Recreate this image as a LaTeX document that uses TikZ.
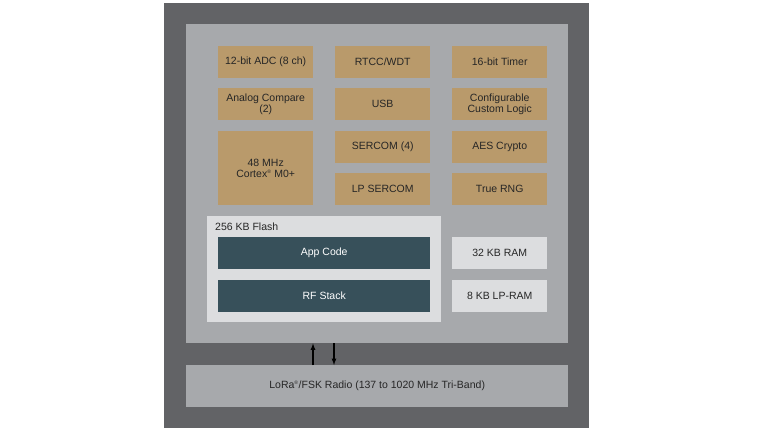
\documentclass[tikz,border=0pt]{standalone}
\usepackage{fontspec}
\setmainfont{Liberation Sans}
\begin{document}
\begin{tikzpicture}[x=1pt,y=-1pt,
  box/.style={minimum width=95pt,minimum height=32pt,inner sep=0pt,anchor=north west,align=center,font=\fontsize{10.5}{11}\selectfont},
  tan/.style={box,fill=tanc,text=black!85},
  mem/.style={box,fill=lightc,text=black!85},
  code/.style={box,fill=tealc,text=white,minimum width=212pt},
  arr/.style={-latex,line width=1.2pt,black}]
\definecolor{outerc}{HTML}{626366}
\definecolor{innerc}{HTML}{A7A9AC}
\definecolor{tanc}{HTML}{B99A6B}
\definecolor{tealc}{HTML}{37505A}
\definecolor{lightc}{HTML}{DCDDDF}
\fill[white] (0,0) rectangle (768,432);
\useasboundingbox (0,0) rectangle (768,432);
\fill[outerc] (164,3) rectangle (589,428);
\node[fill=innerc,minimum width=382pt,minimum height=319pt,inner sep=0pt,anchor=north west] (chip) at (186,24) {};
\node[fill=innerc,minimum width=382pt,minimum height=42pt,inner sep=0pt,anchor=north west,font=\fontsize{10.5}{11}\selectfont,text=black!85] (radio) at (186,365) {LoRa\textsuperscript{\tiny\textregistered}/FSK Radio (137 to 1020 MHz Tri-Band)};
\node[tan] (adc) at (218,46) {12-bit ADC (8 ch)};
\node[tan] (rtcc) at (335,46) {RTCC/WDT};
\node[tan] (tmr) at (452,46) {16-bit Timer};
\node[tan] (ac) at (218,88) {Analog Compare\\(2)};
\node[tan] (usb) at (335,88) {USB};
\node[tan] (ccl) at (452,88) {Configurable\\Custom Logic};
\node[tan,minimum height=74pt] (cpu) at (218,131) {48 MHz\\Cortex\textsuperscript{\tiny\textregistered} M0+};
\node[tan] (ser) at (335,131) {SERCOM (4)};
\node[tan] (aes) at (452,131) {AES Crypto};
\node[tan] (lps) at (335,173) {LP SERCOM};
\node[tan] (rng) at (452,173) {True RNG};
\node[fill=lightc,minimum width=234pt,minimum height=106pt,inner sep=0pt,anchor=north west] (flash) at (207,216) {};
\node[anchor=west,inner sep=0pt,font=\fontsize{10.5}{11}\selectfont,text=black!85] (flbl) at (215,227) {256 KB Flash};
\node[code] (app) at (218,237) {App Code};
\node[code] (rf) at (218,280) {RF Stack};
\node[mem] (ram) at (452,237) {32 KB RAM};
\node[mem] (lpram) at (452,280) {8 KB LP-RAM};
\draw[arr] (radio.north -| 313,0) -- (chip.south -| 313,0);
\draw[arr] (chip.south -| 334,0) -- (radio.north -| 334,0);
\end{tikzpicture}
\end{document}
